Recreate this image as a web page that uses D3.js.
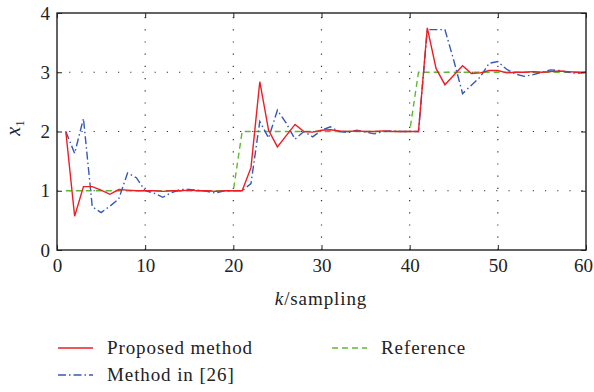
<!DOCTYPE html>
<html>
<head>
<meta charset="utf-8">
<script src="https://cdn.jsdelivr.net/npm/d3@7"></script>
<style>
body { margin: 0; background: #fff; }
text { font-family: "Liberation Serif", "Times New Roman", "DejaVu Serif", serif; fill: #222; }
</style>
</head>
<body>
<script>
// x1 state tracking, sampled at k = 1..60
var proposed = [2.0, 0.57, 1.07, 1.07, 1.01, 0.94, 1.02, 1.01, 1.0, 1.0,
	1.0, 0.99, 1.0, 1.0, 1.01, 1.0, 1.0, 0.99, 1.0, 1.0,
	1.0, 1.39, 2.84, 2.02, 1.74, 1.93, 2.12, 2.0, 1.99, 2.02,
	2.03, 2.01, 2.0, 2.01, 2.0, 2.0, 2.01, 2.0, 2.0, 2.0,
	2.0, 3.75, 3.06, 2.79, 2.95, 3.11, 2.98, 2.99, 3.03, 3.03,
	2.99, 3.0, 3.0, 3.01, 3.0, 3.01, 3.02, 3.01, 3.0, 3.0];

var method26 = [2.0, 1.63, 2.22, 0.73, 0.63, 0.74, 0.86, 1.30, 1.22, 1.0,
	0.96, 0.89, 0.97, 1.02, 1.02, 1.01, 0.99, 0.96, 1.0, 1.0,
	1.0, 1.12, 2.17, 1.89, 2.36, 2.14, 1.87, 2.0, 1.91, 2.02,
	2.08, 2.0, 1.98, 2.02, 1.99, 1.96, 2.0, 2.01, 2.0, 2.0,
	2.0, 3.72, 3.72, 3.72, 3.2, 2.64, 2.78, 2.92, 3.15, 3.18,
	3.05, 2.97, 2.93, 2.96, 3.0, 3.04, 3.03, 3.0, 2.98, 3.0];

var reference = [1, 1, 1, 1, 1, 1, 1, 1, 1, 1,
	1, 1, 1, 1, 1, 1, 1, 1, 1, 1,
	2, 2, 2, 2, 2, 2, 2, 2, 2, 2,
	2, 2, 2, 2, 2, 2, 2, 2, 2, 2,
	3, 3, 3, 3, 3, 3, 3, 3, 3, 3,
	3, 3, 3, 3, 3, 3, 3, 3, 3, 3];

var xTicks = [0, 10, 20, 30, 40, 50, 60];
var yTicks = [0, 1, 2, 3, 4];

var width = 594, height = 392;
var margin = {top: 13, right: 8, bottom: 142, left: 57};

var svg = d3.select("body").append("svg")
	.attr("width", width)
	.attr("height", height);

var x = d3.scaleLinear().domain([0, 60]).range([margin.left, width - margin.right]);
var y = d3.scaleLinear().domain([0, 4]).range([height - margin.bottom, margin.top]);

var x0 = x.range()[0], x1 = x.range()[1], yb = y.range()[0], yt = y.range()[1];

//dotted grid
svg.selectAll(".vgrid").data(xTicks.slice(1, -1)).enter().append("line")
	.attr("x1", function(d){ return x(d); }).attr("x2", function(d){ return x(d); })
	.attr("y1", yb).attr("y2", yt)
	.attr("stroke", "#333").attr("stroke-width", 1.2)
	.attr("stroke-dasharray", "1.2,11");
svg.selectAll(".hgrid").data(yTicks.slice(1, -1)).enter().append("line")
	.attr("y1", function(d){ return y(d); }).attr("y2", function(d){ return y(d); })
	.attr("x1", x0).attr("x2", x1)
	.attr("stroke", "#333").attr("stroke-width", 1.2)
	.attr("stroke-dasharray", "1.2,11");

function series(vals){
	return vals.map(function(v, i){ return [i + 1, v]; });
}

var line = d3.line()
	.x(function(d){ return x(d[0]); })
	.y(function(d){ return y(d[1]); });

var lines = [
	{data: reference, color: "#5dbb2f", dash: "6,4"},
	{data: method26, color: "#3559b8", dash: "8,3,1.5,3"},
	{data: proposed, color: "#ee1d25", dash: null}
];

lines.forEach(function(s){
	svg.append("path")
		.datum(series(s.data))
		.attr("d", line)
		.attr("fill", "none")
		.attr("stroke", s.color)
		.attr("stroke-width", 1.4)
		.attr("stroke-dasharray", s.dash);
});

//axes with inward ticks, mirrored on top and right
var fmt = d3.format("d");
var xAxis = svg.append("g").attr("transform", "translate(0," + yb + ")")
	.call(d3.axisBottom(x).tickValues(xTicks).tickFormat(fmt).tickSize(-5).tickPadding(9));
svg.append("g").attr("transform", "translate(0," + yt + ")")
	.call(d3.axisTop(x).tickValues(xTicks).tickSize(-5).tickFormat(""));
svg.append("g").attr("transform", "translate(" + x0 + ",0)")
	.call(d3.axisLeft(y).tickValues(yTicks).tickFormat(fmt).tickSize(-5).tickPadding(7));
svg.append("g").attr("transform", "translate(" + x1 + ",0)")
	.call(d3.axisRight(y).tickValues(yTicks).tickSize(-5).tickFormat(""));

svg.selectAll(".domain").remove();
svg.selectAll(".tick line").attr("stroke", "#222").attr("stroke-width", 1);
svg.selectAll(".tick text")
	.style("font-family", "'Liberation Serif', 'Times New Roman', serif")
	.style("font-size", "19px")
	.attr("fill", "#222");
//keep the last x label inside the frame
xAxis.selectAll(".tick text").filter(function(d){ return d === 60; }).attr("dx", "-3");

svg.append("rect")
	.attr("x", x0).attr("y", yt)
	.attr("width", x1 - x0).attr("height", yb - yt)
	.attr("fill", "none").attr("stroke", "#222").attr("stroke-width", 1.4);

//axis titles
var xl = svg.append("text")
	.attr("x", 321).attr("y", 305)
	.attr("text-anchor", "middle")
	.style("font-size", "19px")
	.style("letter-spacing", "0.9px");
xl.append("tspan").style("font-style", "italic").text("k");
xl.append("tspan").text("/sampling");

var yl = svg.append("text")
	.attr("transform", "translate(20,128) rotate(-90)")
	.attr("text-anchor", "middle")
	.style("font-size", "20px");
yl.append("tspan").style("font-style", "italic").text("x");
yl.append("tspan").attr("dy", 4).style("font-size", "13px").text("1");

//legend
var legend = [
	{name: "Proposed method", color: "#ee1d25", dash: null, lx: 58, ly: 348},
	{name: "Reference", color: "#5dbb2f", dash: "6,4", lx: 332, ly: 348},
	{name: "Method in [26]", color: "#3559b8", dash: "8,3,1.5,3", lx: 58, ly: 375}
];
legend.forEach(function(l){
	svg.append("line")
		.attr("x1", l.lx).attr("x2", l.lx + 35)
		.attr("y1", l.ly).attr("y2", l.ly)
		.attr("stroke", l.color).attr("stroke-width", 1.4)
		.attr("stroke-dasharray", l.dash);
	svg.append("text")
		.attr("x", l.lx + 49).attr("y", l.ly + 5.5)
		.style("font-size", "19px")
		.style("letter-spacing", "0.9px")
		.text(l.name);
});
</script>
</body>
</html>
